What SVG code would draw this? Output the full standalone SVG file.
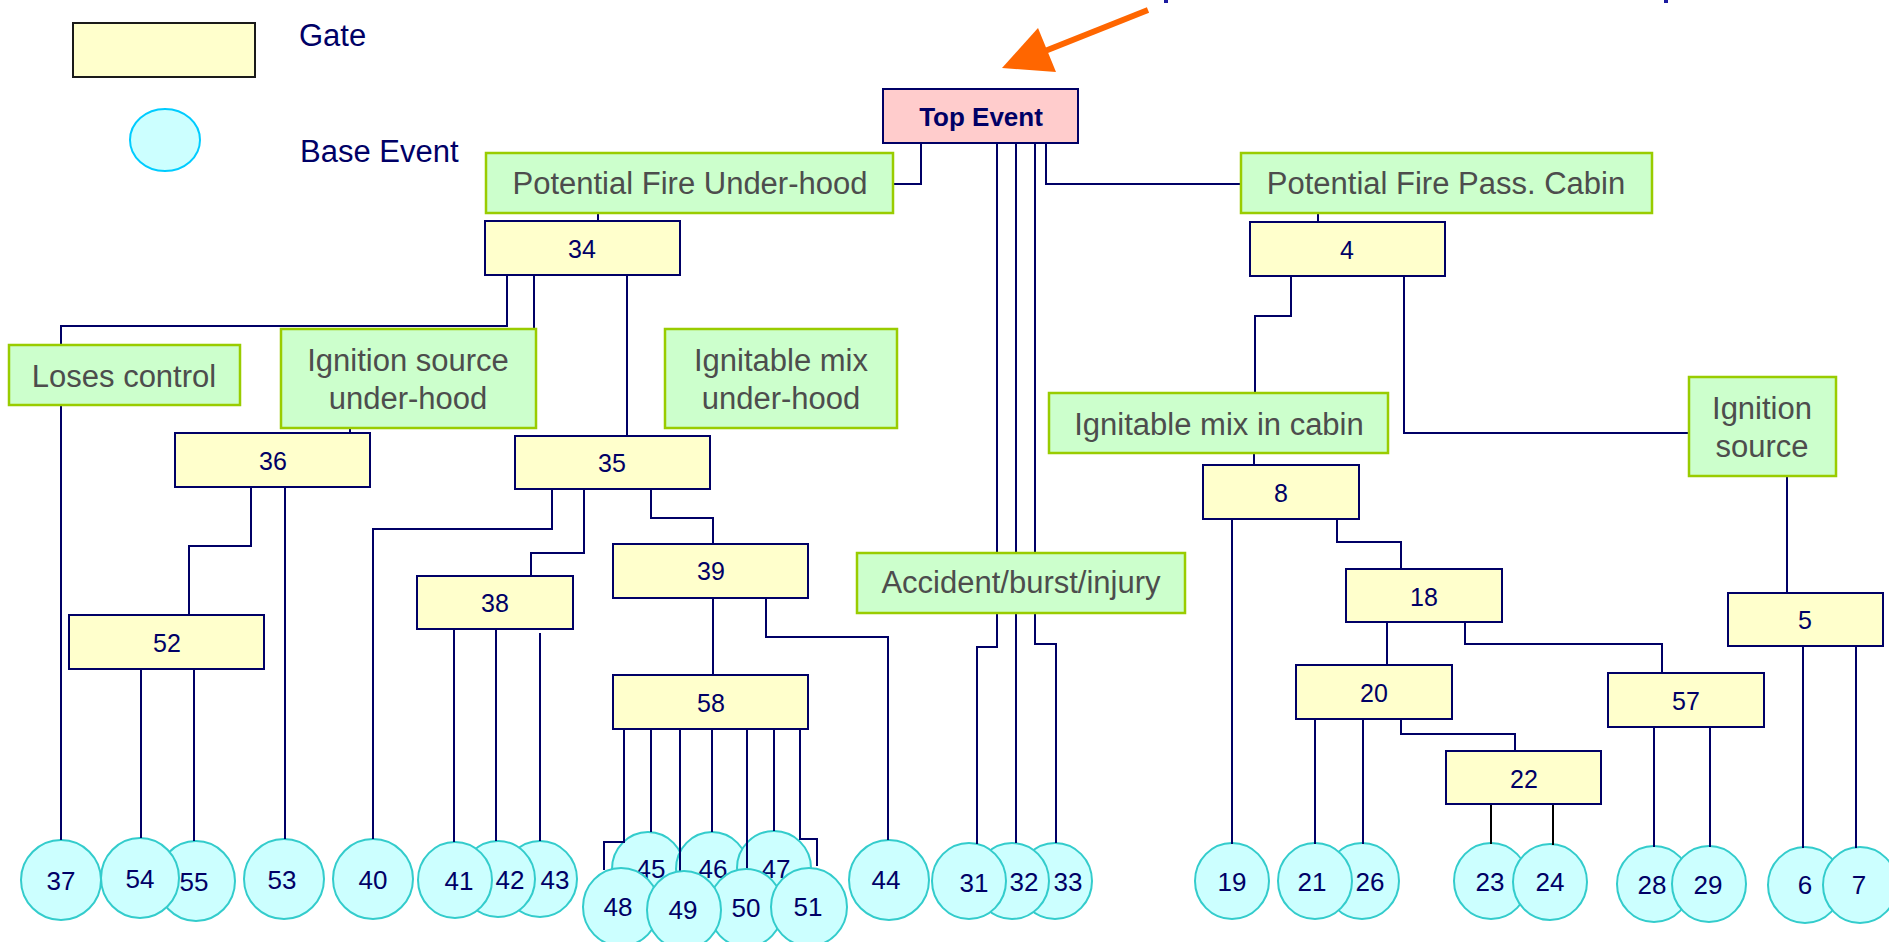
<svg xmlns="http://www.w3.org/2000/svg" width="1889" height="942" viewBox="0 0 1889 942">
<style>
.gate{fill:#FFFFCC;stroke:#000066;stroke-width:2}
.evt{fill:#CCFFCC;stroke:#99CC00;stroke-width:2.5}
.base{fill:#CCFFFF;stroke:#33CCCC;stroke-width:2}
.gt{font-family:"Liberation Sans",Arial,sans-serif;font-size:25px;fill:#000066;text-anchor:middle}
.bt{font-family:"Liberation Sans",Arial,sans-serif;font-size:26px;fill:#000066;text-anchor:middle}
.et{font-family:"Liberation Sans",Arial,sans-serif;font-size:31px;fill:#4D4D4D;text-anchor:middle}
.lt{font-family:"Liberation Sans",Arial,sans-serif;font-size:31px;fill:#000066}
.c{fill:none;stroke:#000066;stroke-width:2}
.ck{fill:none;stroke:#000000;stroke-width:2}
</style>
<rect width="1889" height="942" fill="#FFFFFF"/>
<rect x="1164" y="0" width="4" height="3" fill="#1A1AA0"/>
<rect x="1664" y="0" width="4" height="3" fill="#1A1AA0"/>
<g id="legend">
<rect x="73" y="23" width="182" height="54" fill="#FFFFCC" stroke="#1A1A1A" stroke-width="2"/>
<text class="lt" x="299" y="46">Gate</text>
<ellipse cx="165" cy="140" rx="35" ry="31" fill="#CCFFFF" stroke="#00CCFF" stroke-width="2"/>
<text class="lt" x="300" y="162">Base Event</text>
</g>
<g id="arrow">
<line x1="1148" y1="10" x2="1040" y2="53" stroke="#FF6600" stroke-width="6"/>
<polygon points="1002,68 1038,28 1056,72" fill="#FF6600"/>
</g>
<g id="base-events">
<g id="b37"><ellipse class="base" cx="61" cy="880" rx="40" ry="40"/><text class="bt" x="61" y="890">37</text></g>
<g id="b55"><ellipse class="base" cx="196" cy="881" rx="39" ry="40"/><text class="bt" x="194" y="891">55</text></g>
<g id="b54"><ellipse class="base" cx="140" cy="878" rx="39" ry="40"/><text class="bt" x="140" y="888">54</text></g>
<g id="b53"><ellipse class="base" cx="284" cy="879" rx="40" ry="40"/><text class="bt" x="282" y="889">53</text></g>
<g id="b40"><ellipse class="base" cx="373" cy="879" rx="40" ry="40"/><text class="bt" x="373" y="889">40</text></g>
<g id="b43"><ellipse class="base" cx="540" cy="879" rx="37" ry="38"/><text class="bt" x="555" y="889">43</text></g>
<g id="b42"><ellipse class="base" cx="498" cy="879" rx="37" ry="38"/><text class="bt" x="510" y="889">42</text></g>
<g id="b41"><ellipse class="base" cx="455" cy="880" rx="37" ry="38"/><text class="bt" x="459" y="890">41</text></g>
<g id="b45"><ellipse class="base" cx="648" cy="869" rx="36" ry="37"/><text class="bt" x="651" y="878">45</text></g>
<g id="b46"><ellipse class="base" cx="712" cy="869" rx="36" ry="37"/><text class="bt" x="713" y="878">46</text></g>
<g id="b47"><ellipse class="base" cx="774" cy="868" rx="37" ry="37"/><text class="bt" x="776" y="878">47</text></g>
<g id="b44"><ellipse class="base" cx="889" cy="880" rx="40" ry="40"/><text class="bt" x="886" y="889">44</text></g>
<g id="b33"><ellipse class="base" cx="1055" cy="881" rx="37" ry="38"/><text class="bt" x="1068" y="891">33</text></g>
<g id="b32"><ellipse class="base" cx="1012" cy="881" rx="37" ry="38"/><text class="bt" x="1024" y="891">32</text></g>
<g id="b31"><ellipse class="base" cx="969" cy="881" rx="37" ry="38"/><text class="bt" x="974" y="892">31</text></g>
<g id="b19"><ellipse class="base" cx="1232" cy="881" rx="37" ry="38"/><text class="bt" x="1232" y="891">19</text></g>
<g id="b26"><ellipse class="base" cx="1362" cy="881" rx="37" ry="38"/><text class="bt" x="1370" y="891">26</text></g>
<g id="b21"><ellipse class="base" cx="1315" cy="881" rx="37" ry="38"/><text class="bt" x="1312" y="891">21</text></g>
<g id="b23"><ellipse class="base" cx="1491" cy="881" rx="37" ry="38"/><text class="bt" x="1490" y="891">23</text></g>
<g id="b24"><ellipse class="base" cx="1550" cy="882" rx="37" ry="38"/><text class="bt" x="1550" y="891">24</text></g>
<g id="b28"><ellipse class="base" cx="1654" cy="884" rx="37" ry="38"/><text class="bt" x="1652" y="894">28</text></g>
<g id="b29"><ellipse class="base" cx="1709" cy="884" rx="37" ry="38"/><text class="bt" x="1708" y="894">29</text></g>
<g id="b6"><ellipse class="base" cx="1805" cy="885" rx="37" ry="38"/><text class="bt" x="1805" y="894">6</text></g>
<g id="b7"><ellipse class="base" cx="1860" cy="885" rx="37" ry="38"/><text class="bt" x="1859" y="894">7</text></g>
</g>
<g id="connectors">
<path class="c" d="M921,143 V184 H893"/>
<path class="c" d="M1046,143 V184 H1241"/>
<path class="c" d="M997,143 V647 H977 V844"/>
<path class="c" d="M1016,143 V843"/>
<path class="c" d="M1035,143 V644 H1056 V843"/>
<path class="c" d="M598,213 V221"/>
<path class="c" d="M1318,213 V222"/>
<path class="c" d="M507,275 V326 H61 V840"/>
<path class="c" d="M534,275 V329"/>
<path class="c" d="M350,428 V433"/>
<path class="c" d="M627,275 V436"/>
<path class="c" d="M251,487 V546 H189 V615"/>
<path class="c" d="M285,487 V839"/>
<path class="c" d="M141,669 V838"/>
<path class="c" d="M194,669 V841"/>
<path class="c" d="M552,489 V529 H373 V839"/>
<path class="c" d="M584,489 V553 H531 V576"/>
<path class="c" d="M651,489 V518 H713 V544"/>
<path class="c" d="M454,629 V842"/>
<path class="c" d="M496,629 V841"/>
<path class="c" d="M540,633 V841"/>
<path class="c" d="M713,598 V675"/>
<path class="c" d="M766,598 V637 H888 V840"/>
<path class="c" d="M624,729 V842 H604 V870"/>
<path class="c" d="M651,729 V832"/>
<path class="c" d="M680,729 V871"/>
<path class="c" d="M712,729 V832"/>
<path class="c" d="M747,729 V870"/>
<path class="c" d="M774,729 V831"/>
<path class="c" d="M800,729 V839 H817 V866"/>
<path class="c" d="M1291,276 V316 H1255 V393"/>
<path class="c" d="M1404,276 V433 H1689"/>
<path class="c" d="M1254,453 V465"/>
<path class="c" d="M1787,476 V593"/>
<path class="c" d="M1232,519 V844"/>
<path class="c" d="M1337,519 V542 H1401 V569"/>
<path class="c" d="M1387,622 V665"/>
<path class="c" d="M1465,622 V644 H1662 V673"/>
<path class="c" d="M1315,719 V844"/>
<path class="c" d="M1363,719 V844"/>
<path class="c" d="M1401,719 V734 H1515 V751"/>
<path class="ck" d="M1491,804 V844"/>
<path class="ck" d="M1553,804 V845"/>
<path class="c" d="M1654,727 V847"/>
<path class="c" d="M1710,727 V847"/>
<path class="c" d="M1803,646 V848"/>
<path class="c" d="M1856,646 V848"/>
</g>
<g id="base-events-front">
<g id="b48"><ellipse class="base" cx="621" cy="907" rx="38" ry="39"/><text class="bt" x="618" y="916">48</text></g>
<g id="b50"><ellipse class="base" cx="746" cy="908" rx="37" ry="39"/><text class="bt" x="746" y="917">50</text></g>
<g id="b49"><ellipse class="base" cx="684" cy="910" rx="37" ry="39"/><text class="bt" x="683" y="919">49</text></g>
<g id="b51"><ellipse class="base" cx="809" cy="907" rx="38" ry="39"/><text class="bt" x="808" y="916">51</text></g>
</g>
<g id="top-event"><rect x="883" y="89" width="195" height="54" fill="#FFCCCC" stroke="#000066" stroke-width="2"/><text x="981" y="126" font-family="Liberation Sans, Arial, sans-serif" font-size="26" font-weight="bold" fill="#000066" text-anchor="middle">Top Event</text></g>
<g id="e-pfu"><rect class="evt" x="486" y="153" width="407" height="60"/><text class="et" x="690" y="194">Potential Fire Under-hood</text></g>
<g id="e-pfc"><rect class="evt" x="1241" y="153" width="411" height="60"/><text class="et" x="1446" y="194">Potential Fire Pass. Cabin</text></g>
<g id="e-lc"><rect class="evt" x="9" y="345" width="231" height="60"/><text class="et" x="124" y="387">Loses control</text></g>
<g id="e-isu"><rect class="evt" x="281" y="329" width="255" height="99"/><text class="et" x="408" y="371">Ignition source</text><text class="et" x="408" y="409">under-hood</text></g>
<g id="e-imu"><rect class="evt" x="665" y="329" width="232" height="99"/><text class="et" x="781" y="371">Ignitable mix</text><text class="et" x="781" y="409">under-hood</text></g>
<g id="e-acc"><rect class="evt" x="857" y="553" width="328" height="60"/><text class="et" x="1021" y="593">Accident/burst/injury</text></g>
<g id="e-imc"><rect class="evt" x="1049" y="393" width="339" height="60"/><text class="et" x="1219" y="435">Ignitable mix in cabin</text></g>
<g id="e-is"><rect class="evt" x="1689" y="377" width="147" height="99"/><text class="et" x="1762" y="419">Ignition</text><text class="et" x="1762" y="457">source</text></g>
<g id="g34"><rect class="gate" x="485" y="221" width="195" height="54"/><text class="gt" x="582" y="258">34</text></g>
<g id="g4"><rect class="gate" x="1250" y="222" width="195" height="54"/><text class="gt" x="1347" y="259">4</text></g>
<g id="g36"><rect class="gate" x="175" y="433" width="195" height="54"/><text class="gt" x="273" y="470">36</text></g>
<g id="g35"><rect class="gate" x="515" y="436" width="195" height="53"/><text class="gt" x="612" y="472">35</text></g>
<g id="g52"><rect class="gate" x="69" y="615" width="195" height="54"/><text class="gt" x="167" y="652">52</text></g>
<g id="g38"><rect class="gate" x="417" y="576" width="156" height="53"/><text class="gt" x="495" y="612">38</text></g>
<g id="g39"><rect class="gate" x="613" y="544" width="195" height="54"/><text class="gt" x="711" y="580">39</text></g>
<g id="g58"><rect class="gate" x="613" y="675" width="195" height="54"/><text class="gt" x="711" y="712">58</text></g>
<g id="g8"><rect class="gate" x="1203" y="465" width="156" height="54"/><text class="gt" x="1281" y="502">8</text></g>
<g id="g18"><rect class="gate" x="1346" y="569" width="156" height="53"/><text class="gt" x="1424" y="606">18</text></g>
<g id="g20"><rect class="gate" x="1296" y="665" width="156" height="54"/><text class="gt" x="1374" y="702">20</text></g>
<g id="g22"><rect class="gate" x="1446" y="751" width="155" height="53"/><text class="gt" x="1524" y="788">22</text></g>
<g id="g57"><rect class="gate" x="1608" y="673" width="156" height="54"/><text class="gt" x="1686" y="710">57</text></g>
<g id="g5"><rect class="gate" x="1728" y="593" width="155" height="53"/><text class="gt" x="1805" y="629">5</text></g>
</svg>
